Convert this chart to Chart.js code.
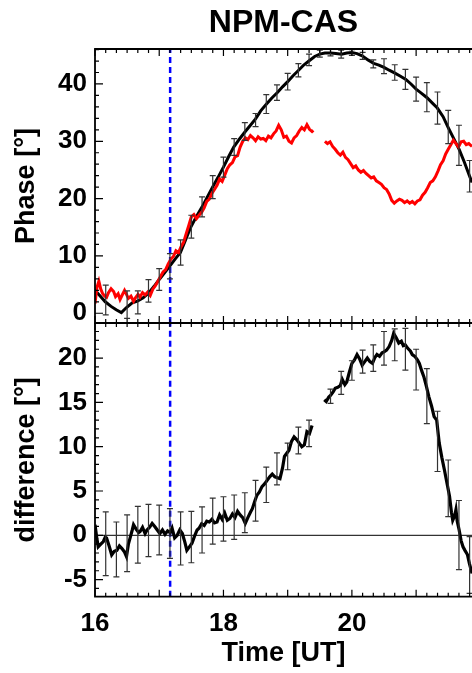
<!DOCTYPE html>
<html>
<head>
<meta charset="utf-8">
<script src="https://cdn.jsdelivr.net/npm/chart.js@4.4.1/dist/chart.umd.min.js"></script>
<style>
  html, body { margin: 0; padding: 0; background: #fff; }
  #wrap { position: relative; width: 472px; height: 673px; overflow: hidden; }
  canvas { position: absolute; left: 0; }
  #cTop { top: 0; }
  #cBot { top: 323px; }
</style>
</head>
<body>
<div id="wrap">
  <canvas id="cTop" width="472" height="324"></canvas>
  <canvas id="cBot" width="472" height="350"></canvas>
</div>
<script>
// ---- data ----
var blackT = [16.00,16.08,16.16,16.25,16.33,16.41,16.49,16.58,16.66,16.75,16.84,16.92,17.00,17.08,17.17,17.25,17.33,17.41,17.49,17.58,17.67,17.75,17.83,17.92,18.00,18.08,18.16,18.25,18.34,18.42,18.50,18.58,18.67,18.75,18.84,18.92,19.00,19.08,19.17,19.25,19.34,19.42,19.50,19.58,19.67,19.75,19.84,19.92,20.00,20.08,20.16,20.25,20.34,20.42,20.50,20.58,20.67,20.75,20.84,20.92,21.00,21.08,21.17,21.25,21.33,21.42,21.50,21.58,21.67,21.75,21.83,21.87];
var blackPhase = [4.0,3.0,2.0,1.2,0.6,0.1,1.0,1.8,2.1,2.7,3.6,4.7,5.9,7.0,8.3,9.5,10.6,12.8,15.0,16.9,18.6,20.3,22.0,23.8,25.5,27.3,29.0,30.4,31.7,32.8,33.9,35.3,36.5,37.5,38.5,39.5,40.4,41.4,42.4,43.3,44.1,44.8,45.2,45.4,45.4,45.3,45.2,45.4,45.5,45.3,44.9,44.2,43.6,43.3,42.9,42.4,41.9,41.4,40.8,40.0,39.1,38.4,37.6,36.7,35.8,34.3,32.4,30.6,28.6,26.4,24.0,22.8];

var redT = [16.00,16.03,16.06,16.09,16.12,16.15,16.18,16.21,16.25,16.29,16.32,16.36,16.39,16.42,16.46,16.49,16.52,16.56,16.60,16.63,16.67,16.70,16.74,16.78,16.82,16.86,16.90,16.94,16.98,17.02,17.06,17.10,17.14,17.18,17.22,17.26,17.30,17.34,17.38,17.42,17.46,17.50,17.54,17.58,17.62,17.66,17.70,17.74,17.78,17.82,17.86,17.90,17.94,17.98,18.02,18.06,18.10,18.14,18.18,18.22,18.26,18.30,18.34,18.38,18.42,18.46,18.50,18.54,18.58,18.62,18.66,18.70,18.74,18.78,18.82,18.86,18.90,18.94,18.98,19.02,19.06,19.10,19.14,19.18,19.22,19.26,19.30,19.34,19.38,19.40,19.49,
  19.58,19.62,19.66,19.70,19.74,19.78,19.82,19.86,19.90,19.94,19.98,20.02,20.06,20.10,20.14,20.18,20.22,20.26,20.30,20.34,20.38,20.42,20.46,20.50,20.54,20.58,20.62,20.66,20.70,20.74,20.78,20.82,20.86,20.90,20.94,20.98,21.02,21.06,21.10,21.14,21.18,21.22,21.26,21.30,21.34,21.38,21.42,21.46,21.50,21.54,21.58,21.62,21.66,21.70,21.74,21.78,21.82,21.87];
var redPhase = [1.7,4.5,5.6,4.2,3.4,3.0,2.8,3.6,4.3,3.8,2.9,3.4,2.4,3.1,4.0,3.3,2.6,3.0,2.1,2.7,3.3,2.8,3.6,3.2,3.7,3.1,4.2,4.8,5.6,6.4,7.2,7.6,8.6,9.4,9.9,10.9,10.6,11.6,12.4,13.9,15.3,16.8,17.2,16.5,17.1,17.6,18.4,19.5,19.9,20.9,21.6,22.3,23.4,23.0,24.1,25.2,25.9,26.3,27.3,27.5,29.0,30.0,30.6,30.3,31.0,30.6,30.1,30.8,30.4,30.5,30.1,30.9,30.6,31.3,31.8,32.8,32.0,30.7,30.9,30.0,29.7,30.6,31.0,31.8,32.4,32.0,32.9,32.1,31.7,31.9,null,
  30.0,29.6,29.9,29.1,28.6,28.0,27.6,28.1,27.2,26.8,26.1,25.4,25.7,25.0,24.6,24.9,24.4,24.0,23.6,23.8,23.1,22.8,22.5,21.9,21.6,20.8,19.7,19.2,19.6,19.9,19.7,19.3,19.6,19.2,19.5,19.1,19.6,19.8,20.6,21.1,21.9,22.8,23.1,23.8,24.8,25.9,26.6,27.8,28.6,29.4,30.2,29.6,29.0,29.9,30.0,29.4,29.6,29.1];

var phaseErrT = [16.167,16.5,16.667,16.833,17.0,17.167,17.333,17.5,17.667,17.833,18.0,18.167,18.333,18.5,18.667,18.833,19.0,19.167,19.333,19.5,19.667,19.833,20.0,20.167,20.333,20.5,20.667,20.833,21.0,21.167,21.333,21.5,21.667,21.833];
var phaseErrV = [2.3,1.5,1.9,3.9,5.9,8.2,10.6,15.1,18.55,22.0,25.5,29.0,31.7,33.7,36.5,38.5,40.4,42.4,44.2,45.3,45.5,45.2,45.5,44.9,43.5,43.1,42.0,40.8,39.1,37.7,35.8,32.5,29.3,23.9];
var phaseErrH = [2.6,2.4,2.0,1.95,1.9,2.2,2.2,2.0,1.75,2.0,1.75,1.45,1.55,1.15,1.65,1.35,1.45,1.15,1.0,0.6,0.6,0.7,0.5,0.6,0.7,1.3,1.35,1.75,2.1,2.55,2.8,2.9,3.5,2.75];

var diffT = [16.00,16.03,16.05,16.09,16.13,16.16,16.18,16.22,16.26,16.30,16.34,16.38,16.42,16.46,16.49,16.52,16.55,16.58,16.60,16.64,16.68,16.70,16.74,16.78,16.81,16.85,16.89,16.93,16.97,17.01,17.05,17.09,17.13,17.17,17.20,17.24,17.28,17.32,17.36,17.40,17.43,17.47,17.51,17.55,17.59,17.62,17.66,17.70,17.74,17.78,17.82,17.86,17.90,17.94,17.98,18.02,18.06,18.10,18.14,18.18,18.22,18.26,18.30,18.34,18.38,18.42,18.45,18.49,18.52,18.56,18.60,18.64,18.68,18.72,18.76,18.80,18.84,18.88,18.92,18.95,18.98,19.02,19.06,19.10,19.14,19.18,19.22,19.26,19.30,19.34,19.38,19.48,
  19.57,19.60,19.64,19.67,19.71,19.74,19.78,19.82,19.85,19.89,19.92,19.96,20.00,20.04,20.08,20.12,20.16,20.20,20.24,20.28,20.32,20.36,20.39,20.43,20.47,20.50,20.54,20.58,20.62,20.65,20.69,20.73,20.77,20.80,20.83,20.87,20.91,20.94,20.98,21.02,21.05,21.09,21.12,21.16,21.20,21.24,21.28,21.32,21.36,21.40,21.44,21.48,21.52,21.55,21.57,21.60,21.62,21.64,21.67,21.70,21.73,21.76,21.80,21.83,21.87];
var diffV = [1.2,-0.4,-1.3,-1.0,-0.7,-0.2,-0.3,-1.2,-2.2,-1.8,-1.7,-1.2,-1.5,-1.9,-2.4,-1.0,-0.2,0.6,1.2,0.7,0.3,0.4,0.9,0.2,0.6,0.9,1.35,1.0,0.6,0.2,0.6,0.1,0.5,0.3,0.8,-0.3,0.0,0.6,0.2,-0.8,-1.7,-1.3,-0.9,-0.1,0.6,0.8,1.3,1.1,1.6,1.5,1.8,1.4,1.5,2.3,1.8,2.5,1.7,1.9,2.4,2.0,2.7,2.3,2.0,1.35,2.0,2.6,3.0,3.9,4.5,4.9,5.5,5.8,6.2,6.6,6.9,6.6,6.5,6.4,7.6,8.9,9.2,9.6,10.6,11.1,10.8,10.4,10.0,10.2,11.7,11.5,12.4,null,
  15.3,15.1,15.6,15.8,16.2,16.6,16.7,16.9,17.6,17.0,17.3,18.4,19.4,19.8,20.4,19.9,19.2,19.6,20.0,19.6,19.4,20.1,20.4,20.2,20.6,20.7,20.9,21.3,22.0,22.8,22.3,21.7,21.9,21.4,21.5,21.1,20.8,20.4,20.2,19.8,19.4,18.5,17.9,16.8,15.6,14.6,13.4,13.0,10.4,8.8,7.4,5.9,4.4,2.6,1.7,2.2,2.9,1.6,0.6,-0.6,-1.3,-1.7,-2.2,-3.2,-4.3];

var diffErrT = [16.167,16.333,16.5,16.667,16.833,17.0,17.167,17.333,17.5,17.667,17.833,18.0,18.167,18.333,18.5,18.667,18.833,19.0,19.167,19.333,19.667,19.833,20.0,20.167,20.333,20.5,20.667,20.833,21.0,21.167,21.333,21.5,21.667,21.833];
var diffErrV = [-0.95,-1.6,-0.9,0.07,0.55,0.6,0.2,-0.35,-0.2,0.6,1.6,1.85,2.05,2.55,3.9,5.7,7.5,8.9,10.7,11.5,15.7,17.2,18.6,19.6,20.0,21.1,21.5,21.0,18.7,15.7,10.6,5.3,0.03,-3.35];
var diffErrH = [3.6,3.1,3.2,3.2,2.95,2.8,2.8,3.0,2.9,2.6,2.6,2.5,2.5,2.25,2.3,2.0,1.8,1.5,1.5,1.5,0.8,1.3,1.1,1.3,1.5,1.9,1.8,2.35,2.3,3.1,3.4,3.2,3.9,3.2];

var markerTime = 17.17;          // blue dashed line
var timeTicks = [16, 18, 20];
var phaseTicks = [0, 10, 20, 30, 40];
var diffTicks = [-5, 0, 5, 10, 15, 20];

var T_MIN = 16, T_MAX = 21.87;
var P_MIN = -1.7, P_MAX = 46.1;
var D_MIN = -6.93, D_MAX = 23.96;

function pts(xs, ys) {
    return xs.map(function (x, i) { return {x: x, y: ys[i]}; });
}

var FONT = '"Liberation Sans", Arial, Helvetica, sans-serif';

// frame + inward ticks (IDL style)
var framePlugin = {
    id: 'frame',
    afterDraw: function (chart, args, o) {
        var ctx = chart.ctx, a = chart.chartArea;
        var xs = chart.scales.x, ys = chart.scales.y;
        ctx.save();
        ctx.strokeStyle = '#000';
        ctx.lineWidth = 1.8;
        ctx.beginPath();
        ctx.moveTo(a.right + 5, a.top); ctx.lineTo(a.left, a.top);
        ctx.lineTo(a.left, a.bottom); ctx.lineTo(a.right + 5, a.bottom);
        ctx.stroke();
        ctx.lineWidth = 1.2;
        ctx.beginPath();
        // y ticks
        var n0 = Math.ceil(ys.min / o.yMinor), n1 = Math.floor(ys.max / o.yMinor);
        for (var n = n0; n <= n1; n++) {
            var v = n * o.yMinor;
            var len = (Math.abs(v / o.yMajor - Math.round(v / o.yMajor)) < 1e-6) ? 8 : 4;
            var py = ys.getPixelForValue(v);
            ctx.moveTo(a.left, py); ctx.lineTo(a.left + len, py);
        }
        // x ticks every 10 minutes, longer on the hour
        for (var k = 0; k <= 36; k++) {
            var t = 16 + k / 6;
            if (t > xs.max) break;
            var px = xs.getPixelForValue(t);
            var l = (k % 6 === 0) ? 7 : 4;
            ctx.moveTo(px, a.bottom); ctx.lineTo(px, a.bottom - l);
            ctx.moveTo(px, a.top); ctx.lineTo(px, a.top + l);
        }
        ctx.stroke();
        ctx.restore();
    }
};

var errorBarPlugin = {
    id: 'errbars',
    afterDatasetsDraw: function (chart, args, o) {
        var ctx = chart.ctx, xs = chart.scales.x, ys = chart.scales.y, a = chart.chartArea;
        ctx.save();
        ctx.beginPath();
        ctx.rect(a.left, a.top, a.right - a.left, a.bottom - a.top);
        ctx.clip();
        ctx.strokeStyle = '#333';
        ctx.lineWidth = 1.2;
        ctx.beginPath();
        for (var i = 0; i < o.t.length; i++) {
            var px = xs.getPixelForValue(o.t[i]);
            var y1 = ys.getPixelForValue(o.v[i] - o.h[i]);
            var y2 = ys.getPixelForValue(o.v[i] + o.h[i]);
            ctx.moveTo(px, y1); ctx.lineTo(px, y2);
            ctx.moveTo(px - 3, y1); ctx.lineTo(px + 3, y1);
            ctx.moveTo(px - 3, y2); ctx.lineTo(px + 3, y2);
        }
        ctx.stroke();
        ctx.restore();
    }
};

function yAxis(min, max, tickVals, title) {
    return {
        type: 'linear', min: min, max: max,
        afterBuildTicks: function (s) { s.ticks = tickVals.map(function (v) { return {value: v}; }); },
        afterFit: function (s) { s.width = 95; s.paddingTop = 0; s.paddingBottom = 0; },
        grid: {display: false, drawTicks: false},
        border: {display: false},
        ticks: {color: '#000', padding: 8, font: {family: FONT, size: 26, weight: 'bold'}},
        title: {display: true, text: title, color: '#000', padding: {top: 10, bottom: 0},
            font: {family: FONT, size: 27, weight: 'bold'}}
    };
}

Chart.defaults.animation = false;

var topChart = new Chart(document.getElementById('cTop'), {
    type: 'line',
    data: {
        datasets: [
            {data: pts(redT, redPhase), borderColor: '#ff0000', borderWidth: 3, pointRadius: 0, spanGaps: false, tension: 0},
            {data: pts(blackT, blackPhase), borderColor: '#000', borderWidth: 3, pointRadius: 0, tension: 0},
            {data: [{x: markerTime, y: P_MIN}, {x: markerTime, y: P_MAX}], borderColor: '#0000ff', borderWidth: 2.5, borderDash: [6, 4], pointRadius: 0}
        ]
    },
    options: {
        responsive: false,
        layout: {padding: {top: 0, right: 0, bottom: 1, left: 0}},
        plugins: {
            legend: {display: false},
            tooltip: {enabled: false},
            title: {display: true, text: 'NPM-CAS', color: '#000', fullSize: false,
                padding: {top: 4, bottom: 6.6}, font: {family: FONT, size: 32, weight: 'bold', lineHeight: 1.2}},
            frame: {yMinor: 2, yMajor: 10},
            errbars: {t: phaseErrT, v: phaseErrV, h: phaseErrH}
        },
        scales: {
            x: {type: 'linear', min: T_MIN, max: T_MAX, display: false},
            y: yAxis(P_MIN, P_MAX, phaseTicks, 'Phase [°]')
        }
    },
    plugins: [framePlugin, errorBarPlugin]
});

var botChart = new Chart(document.getElementById('cBot'), {
    type: 'line',
    data: {
        datasets: [
            {data: pts(diffT, diffV), borderColor: '#000', borderWidth: 3.2, pointRadius: 0, spanGaps: false, tension: 0},
            {data: [{x: T_MIN, y: 0}, {x: T_MAX, y: 0}], borderColor: '#000', borderWidth: 1, pointRadius: 0},
            {data: [{x: markerTime, y: D_MIN}, {x: markerTime, y: D_MAX}], borderColor: '#0000ff', borderWidth: 2.5, borderDash: [6, 4], pointRadius: 0}
        ]
    },
    options: {
        responsive: false,
        layout: {padding: 0},
        plugins: {
            legend: {display: false},
            tooltip: {enabled: false},
            frame: {yMinor: 1, yMajor: 5},
            errbars: {t: diffErrT, v: diffErrV, h: diffErrH}
        },
        scales: {
            x: {
                type: 'linear', min: T_MIN, max: T_MAX,
                afterBuildTicks: function (s) { s.ticks = timeTicks.map(function (v) { return {value: v}; }); },
                afterFit: function (s) { s.height = 76.3; s.paddingLeft = 0; s.paddingRight = 0; },
                grid: {display: false, drawTicks: false},
                border: {display: false},
                ticks: {color: '#000', padding: 12, maxRotation: 0, font: {family: FONT, size: 26, weight: 'bold'}},
                title: {display: true, text: 'Time [UT]', color: '#000', padding: {top: 0, bottom: 3},
                    font: {family: FONT, size: 27, weight: 'bold'}}
            },
            y: yAxis(D_MIN, D_MAX, diffTicks, 'difference [°]')
        }
    },
    plugins: [framePlugin, errorBarPlugin]
});
</script>
</body>
</html>
